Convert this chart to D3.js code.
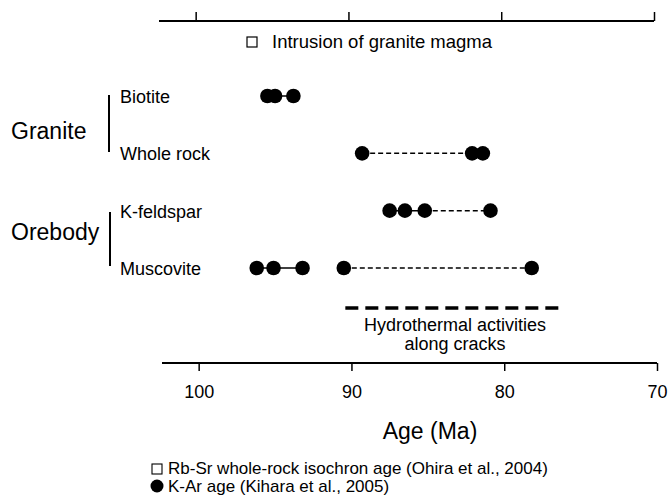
<!DOCTYPE html>
<meta charset="utf-8">
<script src="https://d3js.org/d3.v7.min.js"></script>
<style>
body { margin: 0; background: #fff; font-family: "Liberation Sans", Arial, sans-serif; }
svg text { fill: #000; }
</style>
<body>
<script>
// rows of the chart
var rows = ["Biotite", "Whole rock", "K-feldspar", "Muscovite"];
// K-Ar ages (Ma)
var biotite   = [95.5, 95.0, 93.8];
var wholeRock = [89.3, 82.1, 81.4];
var kfeldspar = [87.5, 86.5, 85.2, 80.9];
var muscovite = [96.2, 95.1, 93.2, 90.5, 78.2];
// solid links (touching dots) and dashed ranges, per row
var solidLinks  = [[95.5, 93.8], [82.1, 81.4], [87.5, 85.2], [96.2, 93.2]];
var dashedLinks = [null, [89.3, 82.1], [85.2, 80.9], [90.5, 78.2]];
var hydrothermal = [90.4, 76.2];
var tickValues = [100, 90, 80, 70];

var ages = [biotite, wholeRock, kfeldspar, muscovite];

var W = 670, H = 502;
var svg = d3.select("body").append("svg").attr("width", W).attr("height", H);

var x = d3.scaleLinear().domain([102.4, 70]).range([162, 657]);
var xTop = d3.scaleLinear().domain([102.4, 70]).range([159, 654]);
var y = d3.scalePoint().domain(rows).range([96, 268]);

// top axis
var topAxis = svg.append("g").attr("transform", "translate(0,21)")
  .call(d3.axisTop(xTop).tickValues(tickValues).tickSize(9).tickFormat(""));
topAxis.select(".domain").attr("d", "M159,0H654").attr("stroke-width", 2);
topAxis.selectAll(".tick line").attr("stroke-width", 1.5);

svg.append("rect").attr("x", 247).attr("y", 37).attr("width", 10).attr("height", 10)
  .attr("fill", "none").attr("stroke", "#000").attr("stroke-width", 1.2);
svg.append("text").attr("x", 272).attr("y", 48).attr("font-size", 18.5)
  .text("Intrusion of granite magma");

// bottom axis
var bottomAxis = svg.append("g").attr("transform", "translate(0,363)")
  .call(d3.axisBottom(x).tickValues(tickValues).tickSize(8).tickPadding(14));
bottomAxis.select(".domain").attr("d", "M162,0H657").attr("stroke-width", 2);
bottomAxis.selectAll(".tick line").attr("stroke-width", 1.5);
bottomAxis.selectAll(".tick text").attr("font-size", 18)
  .attr("font-family", "Liberation Sans, Arial, sans-serif").attr("fill", "#000");

svg.append("text").attr("x", 430).attr("y", 439).attr("text-anchor", "middle")
  .attr("font-size", 23).text("Age (Ma)");

// group labels
svg.append("text").attr("x", 11).attr("y", 139).attr("font-size", 23).text("Granite");
svg.append("text").attr("x", 11).attr("y", 240).attr("font-size", 23).text("Orebody");
svg.append("line").attr("x1", 109).attr("x2", 109).attr("y1", 95).attr("y2", 152)
  .attr("stroke", "#000").attr("stroke-width", 2);
svg.append("line").attr("x1", 110).attr("x2", 110).attr("y1", 212).attr("y2", 266)
  .attr("stroke", "#000").attr("stroke-width", 2);

svg.selectAll(".rowlab").data(rows).enter().append("text")
  .attr("class", "rowlab")
  .attr("x", 120).attr("y", function(d) { return y(d) + 7; })
  .attr("font-size", 18).text(function(d) { return d; });

// dashed ranges
svg.selectAll(".dash").data(dashedLinks.map(function(d, i) { return {r: rows[i], v: d}; })
    .filter(function(d) { return d.v; }))
  .enter().append("line").attr("class", "dash")
  .attr("x1", function(d) { return x(d.v[0]); }).attr("x2", function(d) { return x(d.v[1]); })
  .attr("y1", function(d) { return y(d.r); }).attr("y2", function(d) { return y(d.r); })
  .attr("stroke", "#000").attr("stroke-width", 1.5).attr("stroke-dasharray", "5,3");

svg.selectAll(".solid").data(solidLinks.map(function(d, i) { return {r: rows[i], v: d}; }))
  .enter().append("line").attr("class", "solid")
  .attr("x1", function(d) { return x(d.v[0]); }).attr("x2", function(d) { return x(d.v[1]); })
  .attr("y1", function(d) { return y(d.r); }).attr("y2", function(d) { return y(d.r); })
  .attr("stroke", "#000").attr("stroke-width", 1.5);

// dots
var pts = [];
ages.forEach(function(a, i) { a.forEach(function(v) { pts.push({r: rows[i], v: v}); }); });
svg.selectAll(".dot").data(pts).enter().append("circle").attr("class", "dot")
  .attr("cx", function(d) { return x(d.v); }).attr("cy", function(d) { return y(d.r); })
  .attr("r", 7.3).attr("fill", "#000");

// hydrothermal activity
svg.append("line").attr("x1", x(hydrothermal[0])).attr("x2", x(hydrothermal[1]))
  .attr("y1", 308).attr("y2", 308).attr("stroke", "#000").attr("stroke-width", 3.5)
  .attr("stroke-dasharray", "13,7");
svg.append("text").attr("x", 455).attr("y", 331).attr("text-anchor", "middle")
  .attr("font-size", 18).text("Hydrothermal activities");
svg.append("text").attr("x", 455).attr("y", 350).attr("text-anchor", "middle")
  .attr("font-size", 18).text("along cracks");

// legend
svg.append("rect").attr("x", 152).attr("y", 464).attr("width", 10).attr("height", 10)
  .attr("fill", "none").attr("stroke", "#000").attr("stroke-width", 1.1);
svg.append("text").attr("x", 168).attr("y", 474).attr("font-size", 17)
  .text("Rb-Sr whole-rock isochron age (Ohira et al., 2004)");
svg.append("circle").attr("cx", 157).attr("cy", 486).attr("r", 6.5).attr("fill", "#000");
svg.append("text").attr("x", 168).attr("y", 492).attr("font-size", 17)
  .text("K-Ar age (Kihara et al., 2005)");
</script>
</body>
